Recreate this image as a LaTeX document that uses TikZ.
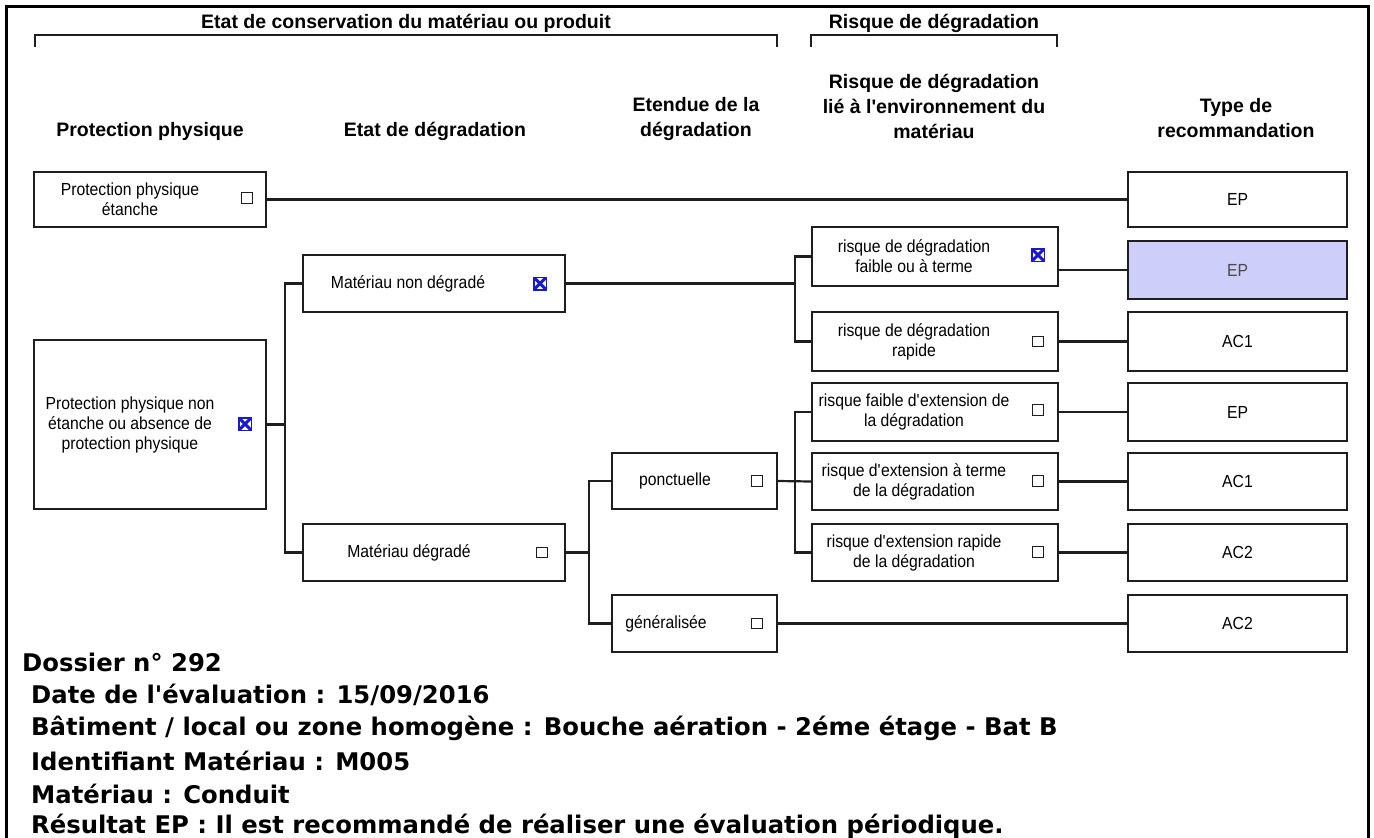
\documentclass[tikz,border=0pt]{standalone}
\usepackage{fontspec}
\setmainfont{Liberation Sans}
\newfontfamily\boxfont[FakeStretch=0.9]{Liberation Sans}
\newfontfamily\vfont{DejaVu Sans}
\usetikzlibrary{calc}
\definecolor{lc}{HTML}{1E1E1E}
\definecolor{xblue}{RGB}{25,25,205}
\definecolor{epfill}{RGB}{206,206,250}
\definecolor{tgray}{HTML}{4A4A4A}
\begin{document}
\begin{tikzpicture}[x=1pt,y=-1pt,
  box/.style={draw=lc, line width=2.2pt, inner sep=0pt, font=\boxfont\fontsize{17.5}{20}\selectfont},
  lbl/.style={inner sep=0pt, align=center, font=\boxfont\fontsize{17.5}{20}\selectfont},
  hdr/.style={inner sep=0pt, align=center, font=\fontsize{19.5}{25}\selectfont\bfseries},
  conn/.style={draw=lc, line width=2.2pt},
  brk/.style={draw=lc, line width=2.5pt},
  chk/.style={draw=lc, line width=1.3pt, minimum size=10.5pt, inner sep=0pt},
  chkx/.style={draw=xblue, line width=1.5pt, minimum size=12.5pt, inner sep=0pt,
    path picture={\draw[xblue, line width=3pt]
      (path picture bounding box.north west) -- (path picture bounding box.south east)
      (path picture bounding box.north east) -- (path picture bounding box.south west);}},
  info/.style={inner sep=0pt, anchor=west, font=\vfont\bfseries\fontsize{24.3}{30}\selectfont},
]
\useasboundingbox (0,0) rectangle (1374,838);
\draw[line width=3pt] (6,838) -- (6,6) -- (1368,6) -- (1368,838);

% top headers and brackets
\node[hdr] (h1) at (406,23) {Etat de conservation du matériau ou produit};
\node[hdr] (h2) at (934,23) {Risque de dégradation};
\coordinate (b1a) at (35,47); \coordinate (b1b) at (777,47);
\coordinate (b2a) at (811,47); \coordinate (b2b) at (1057,47);
\draw[brk] (b1a) -- ++(0,-12) -| (b1b);
\draw[brk] (b2a) -- ++(0,-12) -| (b2b);

% column headers
\node[hdr] (c1) at (150,131) {Protection physique};
\node[hdr] (c2) at (435,131) {Etat de dégradation};
\node[hdr] (c3) at (696,118.5) {Etendue de la\\dégradation};
\node[hdr] (c4) at (934,106.5) {Risque de dégradation\\lié à l\textquotesingle environnement du\\matériau};
\node[hdr] (c5) at (1236,118.5) {Type de\\recommandation};

% column 1
\node[box, minimum width=232pt, minimum height=55pt] (ppe) at (150,199.5) {};
\node[lbl] (ppet) at (130,199.5) {Protection physique\\étanche};
\node[chk] (ppec) at (247,198) {};
\node[box, minimum width=232pt, minimum height=169pt] (ppn) at (150,424.5) {};
\node[lbl] (ppnt) at (130,424.5) {Protection physique non\\étanche ou absence de\\protection physique};
\node[chkx] (ppnc) at (245,424) {};

% column 2
\node[box, minimum width=262pt, minimum height=57pt] (mnd) at (434,283.5) {};
\node[lbl] (mndt) at (408,283.5) {Matériau non dégradé};
\node[chkx] (mndc) at (540,283.5) {};
\node[box, minimum width=262pt, minimum height=57pt] (md) at (434,552.5) {};
\node[lbl] (mdt) at (409,552.5) {Matériau dégradé};
\node[chk] (mdc) at (542,552.5) {};

% column 3
\node[box, minimum width=165pt, minimum height=56pt] (pon) at (694.5,481) {};
\node[lbl] (pont) at (675,481) {ponctuelle};
\node[chk] (ponc) at (757,481) {};
\node[box, minimum width=165pt, minimum height=57pt] (gen) at (694.5,623.5) {};
\node[lbl] (gent) at (666,623.5) {généralisée};
\node[chk] (genc) at (757,623.5) {};

% column 4
\node[box, minimum width=246pt, minimum height=59pt] (r1) at (935,256.5) {};
\node[lbl] (r1t) at (914,256.5) {risque de dégradation\\faible ou à terme};
\node[chkx] (r1c) at (1038,255) {};
\node[box, minimum width=246pt, minimum height=59pt] (r2) at (935,341.5) {};
\node[lbl] (r2t) at (914,341.5) {risque de dégradation\\rapide};
\node[chk] (r2c) at (1038,341.5) {};
\node[box, minimum width=246pt, minimum height=58pt] (r3) at (935,412) {};
\node[lbl] (r3t) at (914,412) {risque faible d\textquotesingle extension de\\la dégradation};
\node[chk] (r3c) at (1038,410) {};
\node[box, minimum width=246pt, minimum height=57pt] (r4) at (935,481.5) {};
\node[lbl] (r4t) at (914,481.5) {risque d\textquotesingle extension à terme\\de la dégradation};
\node[chk] (r4c) at (1038,481) {};
\node[box, minimum width=246pt, minimum height=57pt] (r5) at (935,552.5) {};
\node[lbl] (r5t) at (914,552.5) {risque d\textquotesingle extension rapide\\de la dégradation};
\node[chk] (r5c) at (1038,552) {};

% column 5
\node[box, minimum width=219pt, minimum height=55pt] (t0) at (1237.5,199.5) {EP};
\node[box, fill=epfill, text=tgray, minimum width=219pt, minimum height=58pt] (t1) at (1237.5,270) {EP};
\node[box, minimum width=219pt, minimum height=59pt] (t2) at (1237.5,341.5) {AC1};
\node[box, minimum width=219pt, minimum height=58pt] (t3) at (1237.5,412) {EP};
\node[box, minimum width=219pt, minimum height=57pt] (t4) at (1237.5,481.5) {AC1};
\node[box, minimum width=219pt, minimum height=57pt] (t5) at (1237.5,552.5) {AC2};
\node[box, minimum width=219pt, minimum height=57pt] (t6) at (1237.5,623.5) {AC2};

% connectors
\coordinate (j1) at (285,424.5);
\coordinate (j2) at (795,283.5);
\coordinate (j3) at (589,552.5);
\coordinate (j4) at (795,481);
\draw[conn] (ppe.east) -- (t0.west);
\draw[conn] (ppn.east) -- (j1);
\draw[conn] (mnd.west) -| (j1) |- (md.west);
\draw[conn] (mnd.east) -- (j2);
\draw[conn] (r1.west) -| (j2) |- (r2.west);
\draw[conn] (md.east) -- (j3);
\draw[conn] (pon.west) -| (j3) |- (gen.west);
\draw[conn] (pon.east) -- (r4.west);
\draw[conn] (r3.west) -| (j4) |- (r5.west);
\draw[conn] (gen.east) -- (t6.west);
\draw[conn] (r1.east |- t1.west) -- (t1.west);
\draw[conn] (r2.east) -- (t2.west);
\draw[conn] (r3.east) -- (t3.west);
\draw[conn] (r4.east) -- (t4.west);
\draw[conn] (r5.east) -- (t5.west);

% information
\node[info] (i1) at (22,662) {Dossier n° 292};
\node[info] (i2) at (31,695) {Date de l\textquotesingle évaluation : 15/09/2016};
\node[info] (i3) at (31,728) {Bâtiment / local ou zone homogène : Bouche aération - 2éme étage - Bat B};
\node[info] (i4) at (31,761) {Identifiant Matériau : M005};
\node[info] (i5) at (31,794) {Matériau : Conduit};
\node[info] (i6) at (31,826) {Résultat EP : Il est recommandé de réaliser une évaluation périodique.};
\end{tikzpicture}
\end{document}
